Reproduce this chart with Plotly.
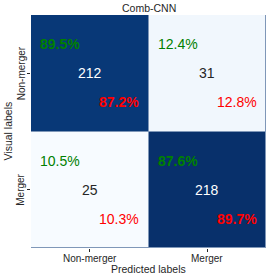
import plotly.graph_objects as go

title = "Comb-CNN"
x_labels = ["Non-merger", "Merger"]
y_labels = ["Non-merger", "Merger"]
counts = [[212, 31], [25, 218]]
col_pct = [["89.5%", "12.4%"], ["10.5%", "87.6%"]]   # green (top-left)
row_pct = [["87.2%", "12.8%"], ["10.3%", "89.7%"]]   # red (bottom-right)

blues = ["#f7fbff", "#deebf7", "#c6dbef", "#9ecae1", "#6baed6",
         "#4292c6", "#2171b5", "#08519c", "#08306b"]
cs = [[i / (len(blues) - 1), c] for i, c in enumerate(blues)]

zmin = min(min(r) for r in counts)
zmax = max(max(r) for r in counts)

fig = go.Figure(go.Heatmap(
    z=counts, x=[0, 1], y=[0, 1], colorscale=cs, zmin=zmin, zmax=zmax,
    showscale=False, xgap=1, ygap=1, hoverinfo="skip",
))

FONT = "Liberation Sans, Arial, sans-serif"
TXT = "#262626"
ann = []
for i in range(2):
    for j in range(2):
        frac = (counts[i][j] - zmin) / (zmax - zmin)
        dark = frac > 0.5
        ann.append(dict(x=j, y=i, text=str(counts[i][j]), showarrow=False,
                        font=dict(size=14, family=FONT,
                                  color="white" if dark else TXT)))
        pct_txt = (lambda s: f"<b>{s}</b>") if dark else (lambda s: s)
        ann.append(dict(x=j - 0.25, y=i - 0.25, text=pct_txt(col_pct[i][j]),
                        showarrow=False,
                        font=dict(size=14, family=FONT, color="green")))
        ann.append(dict(x=j + 0.25, y=i + 0.25, text=pct_txt(row_pct[i][j]),
                        showarrow=False,
                        font=dict(size=14, family=FONT, color="red")))

# tick labels and titles
for k, lab in enumerate(x_labels):
    ann.append(dict(x=k, y=0, xref="x", yref="paper", yanchor="middle",
                    yshift=-10, text=lab, showarrow=False,
                    font=dict(size=10, family=FONT, color=TXT)))
for k, lab in enumerate(y_labels):
    ann.append(dict(x=0, y=k, xref="paper", yref="y", xanchor="center",
                    xshift=-10, text=lab, textangle=-90, showarrow=False,
                    font=dict(size=10, family=FONT, color=TXT)))
ann.append(dict(x=0.5, y=0, xref="paper", yref="paper", yanchor="middle",
                yshift=-21, text="Predicted labels", showarrow=False,
                font=dict(size=10.5, family=FONT, color=TXT)))
ann.append(dict(x=0, y=0.5, xref="paper", yref="paper", xanchor="center",
                xshift=-24, text="Visual labels", textangle=-90,
                showarrow=False, font=dict(size=10.5, family=FONT, color=TXT)))
ann.append(dict(x=0.5, y=1, xref="paper", yref="paper", yanchor="middle",
                yshift=7, text=title, showarrow=False,
                font=dict(size=10.5, family=FONT, color=TXT)))

fig.update_layout(
    width=270, height=279,
    margin=dict(l=31, r=4, t=15, b=31, autoexpand=False),
    paper_bgcolor="white", plot_bgcolor="#7f97b8",
    font=dict(family=FONT, size=10, color=TXT),
    annotations=ann,
    xaxis=dict(tickvals=[0, 1], showticklabels=False, range=[-0.5, 1.5],
               ticks="outside", ticklen=3, tickcolor=TXT, automargin=False,
               showgrid=False, zeroline=False),
    yaxis=dict(tickvals=[0, 1], showticklabels=False, range=[1.5, -0.5],
               ticks="outside", ticklen=3, tickcolor=TXT, automargin=False,
               showgrid=False, zeroline=False),
)

fig.write_html("out.html", config={"displayModeBar": False},
               post_script="document.body.style.margin='0';"
                           "document.body.style.overflow='hidden';")
